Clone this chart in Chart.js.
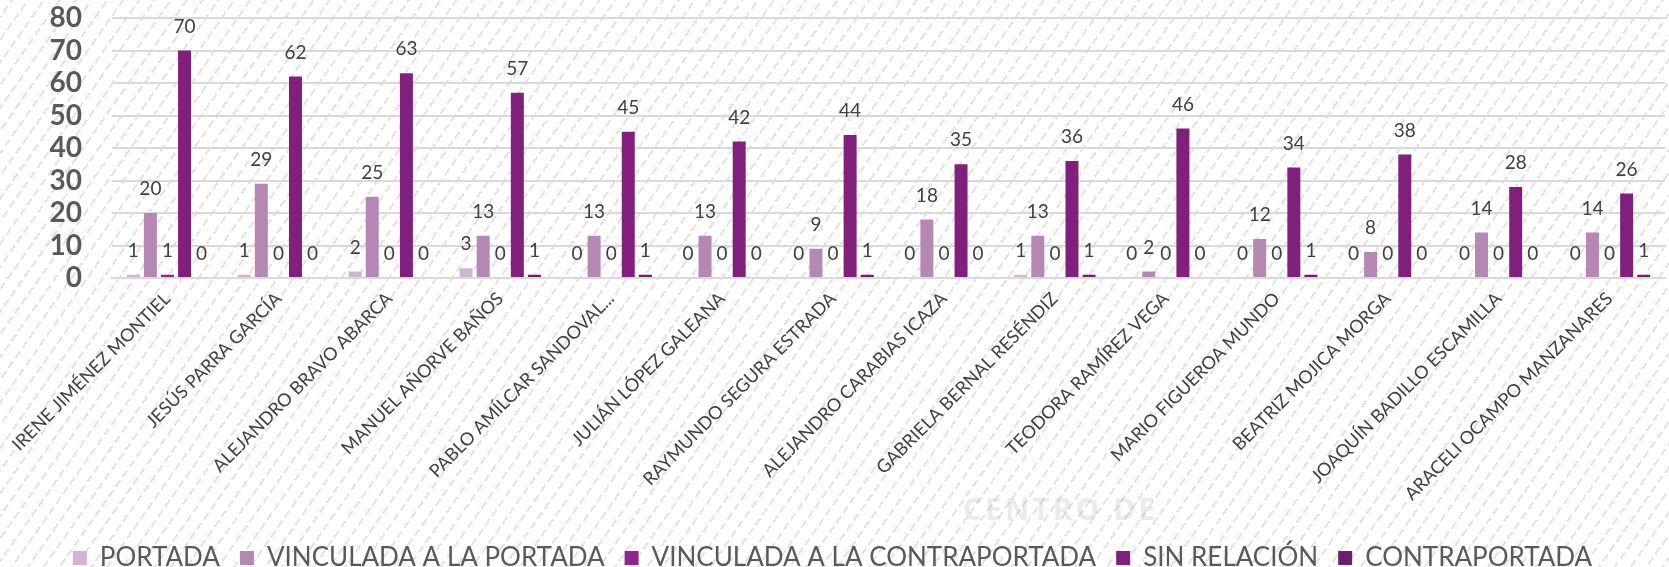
<!DOCTYPE html>
<html>
<head>
<meta charset="utf-8">
<script src="https://cdn.jsdelivr.net/npm/chart.js@4.4.1/dist/chart.umd.min.js"></script>
<style>
  html, body { margin: 0; padding: 0; }
  body {
    width: 1669px; height: 567px; overflow: hidden; position: relative;
    background-color: #fff;
    background-image:
      repeating-linear-gradient(35deg, rgba(255,255,255,0) 0 8px, #fff 8px 12px),
      repeating-linear-gradient(125deg, #fff 0 9px, #e3e3e3 9px 11px, #fff 11px 13px);
  }
  #mark {
    position: absolute; left: 963px; top: 488px;
    font: bold 30px "Open Sans", sans-serif; letter-spacing: 3px;
    color: rgba(150,150,150,0.2);
  }
  #wrap { position: absolute; left: 0; top: 0; width: 1669px; height: 567px; }
</style>
</head>
<body>
<div id="mark">CENTRO DE</div>
<div id="wrap"><canvas id="chart"></canvas></div>
<script>
// candidates (x axis)
var categories = ['IRENE JIMÉNEZ MONTIEL', 'JESÚS PARRA GARCÍA', 'ALEJANDRO BRAVO ABARCA',
    'MANUEL AÑORVE BAÑOS', 'PABLO AMÍLCAR SANDOVAL...', 'JULIÁN LÓPEZ GALEANA',
    'RAYMUNDO SEGURA ESTRADA', 'ALEJANDRO CARABIAS ICAZA', 'GABRIELA BERNAL RESÉNDIZ',
    'TEODORA RAMÍREZ VEGA', 'MARIO FIGUEROA MUNDO', 'BEATRIZ MOJICA MORGA',
    'JOAQUÍN BADILLO ESCAMILLA', 'ARACELI OCAMPO MANZANARES'];

// series values
var portada        = [1, 1, 2, 3, 0, 0, 0, 0, 1, 0, 0, 0, 0, 0];
var vincPortada    = [20, 29, 25, 13, 13, 13, 9, 18, 13, 2, 12, 8, 14, 14];
var vincContra     = [1, 0, 0, 0, 0, 0, 0, 0, 0, 0, 0, 0, 0, 0];
var sinRelacion    = [70, 62, 63, 57, 45, 42, 44, 35, 36, 46, 34, 38, 28, 26];
var contraportada  = [0, 0, 0, 1, 1, 0, 1, 0, 1, 0, 1, 0, 0, 1];

var yTicks = [0, 10, 20, 30, 40, 50, 60, 70, 80];

// numbers above every bar (no datalabels plugin here)
var valueLabels = {
    id: 'valueLabels',
    afterDatasetsDraw: function(chart) {
        var ctx = chart.ctx;
        ctx.save();
        ctx.font = '19px Lato';
        ctx.fillStyle = '#404040';
        ctx.textAlign = 'center';
        ctx.textBaseline = 'middle';
        chart.data.datasets.forEach(function(ds, i) {
            chart.getDatasetMeta(i).data.forEach(function(bar, j) {
                ctx.fillText(ds.data[j], bar.x, bar.y - 24);
            });
        });
        ctx.restore();
    }
};

function makeSet(label, data, color) {
    return {
        label: label,
        data: data,
        backgroundColor: color,
        borderWidth: 0,
        categoryPercentage: 0.77,
        barPercentage: 0.76
    };
}

new Chart(document.getElementById('chart'), {
    type: 'bar',
    data: {
        labels: categories,
        datasets: [
            makeSet('PORTADA', portada, '#d1b4d0'),
            makeSet('VINCULADA A LA PORTADA', vincPortada, '#b587b3'),
            makeSet('VINCULADA A LA CONTRAPORTADA', vincContra, '#912590'),
            makeSet('SIN RELACIÓN', sinRelacion, '#801f7c'),
            makeSet('CONTRAPORTADA', contraportada, '#6b1e6b')
        ]
    },
    options: {
        responsive: true,
        maintainAspectRatio: false,
        animation: false,
        layout: { padding: { top: 18, right: 4, left: 0, bottom: -14 } },
        plugins: {
            tooltip: { enabled: false },
            legend: {
                position: 'bottom',
                labels: {
                    font: { family: 'Lato', size: 26 },
                    color: '#595959',
                    boxWidth: 14,
                    boxHeight: 14,
                    padding: 20
                }
            }
        },
        scales: {
            x: {
                grid: { display: false },
                border: { color: '#d9d9d9', width: 2 },
                ticks: {
                    font: { family: 'Lato', size: 18 },
                    color: '#404040',
                    minRotation: 45,
                    maxRotation: 45,
                    autoSkip: false,
                    padding: 2
                },
                afterFit: function(scale) { scale.height = 247; }
            },
            y: {
                min: 0,
                max: 80,
                afterBuildTicks: function(scale) {
                    scale.ticks = yTicks.map(function(v) { return { value: v }; });
                },
                grid: { color: '#d9d9d9', lineWidth: 2, drawTicks: false },
                border: { display: false },
                ticks: {
                    font: { family: 'Lato', size: 28, weight: 'bold' },
                    color: '#595959',
                    padding: 30,
                    autoSkip: false
                },
                afterFit: function(scale) {
                    scale.width = 112;
                    // tick padding is added on top/bottom too, drop it
                    scale.paddingTop = 17;
                    scale.paddingBottom = 17;
                }
            }
        }
    },
    plugins: [valueLabels]
});
</script>
</body>
</html>
